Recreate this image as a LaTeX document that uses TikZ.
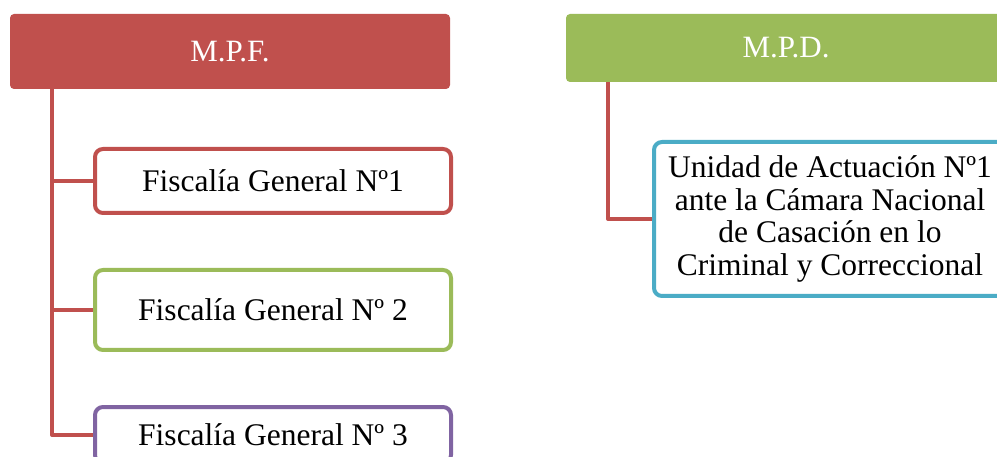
\documentclass[tikz,border=0pt]{standalone}
\usepackage{fontspec}
\setmainfont{Liberation Serif}
\definecolor{cred}{HTML}{C0504D}
\definecolor{cgreen}{HTML}{9BBB59}
\definecolor{cpurple}{HTML}{8064A2}
\definecolor{cblue}{HTML}{4BACC6}
\pgfdeclarelayer{background}
\pgfsetlayers{background,main}
\begin{document}
\begin{tikzpicture}[x=1pt,y=-1pt,
  head/.style={fill=#1, draw=none, rounded corners=4pt, inner sep=0pt, text=white,
    font=\fontsize{31}{34}\selectfont, align=center},
  child/.style={draw=#1, line width=4pt, fill=white, rounded corners=8pt, inner sep=0pt,
    font=\fontsize{31.5}{32.5}\selectfont, align=center, text=black},
  link/.style={draw=cred, line width=4pt, line join=round, line cap=round}]
\useasboundingbox (0,0) rectangle (997,457);
\clip (0,0) rectangle (997,457);
% headers
\node[head=cred, minimum width=440pt, minimum height=75pt] (mpf) at (230,51.5) {M.P.F.};
\node[head=cgreen, minimum width=440pt, minimum height=68pt] (mpd) at (786,48) {M.P.D.};
% children of MPF
\node[child=cred, minimum width=356pt, minimum height=64pt] (f1) at (273,181) {Fiscalía General Nº1};
\node[child=cgreen, minimum width=356pt, minimum height=80pt] (f2) at (273,310) {Fiscalía General Nº 2};
\node[child=cpurple, minimum width=356pt, minimum height=56pt] (f3) at (273,435) {Fiscalía General Nº 3};
% child of MPD
\node[child=cblue, minimum width=352pt, minimum height=154pt] (u1) at (830,219)
  {Unidad de Actuación Nº1\\ante la Cámara Nacional\\de Casación en lo\\Criminal y Correccional};
% connectors
\coordinate (ta) at (52,89);
\coordinate (tb) at (608,82);
\begin{pgfonlayer}{background}
\draw[link] (ta) |- (f3.west);
\draw[link] (ta|-f1.west) -- (f1.west);
\draw[link] (ta|-f2.west) -- (f2.west);
\draw[link] (tb) |- (u1.west);
\end{pgfonlayer}
\end{tikzpicture}
\end{document}
